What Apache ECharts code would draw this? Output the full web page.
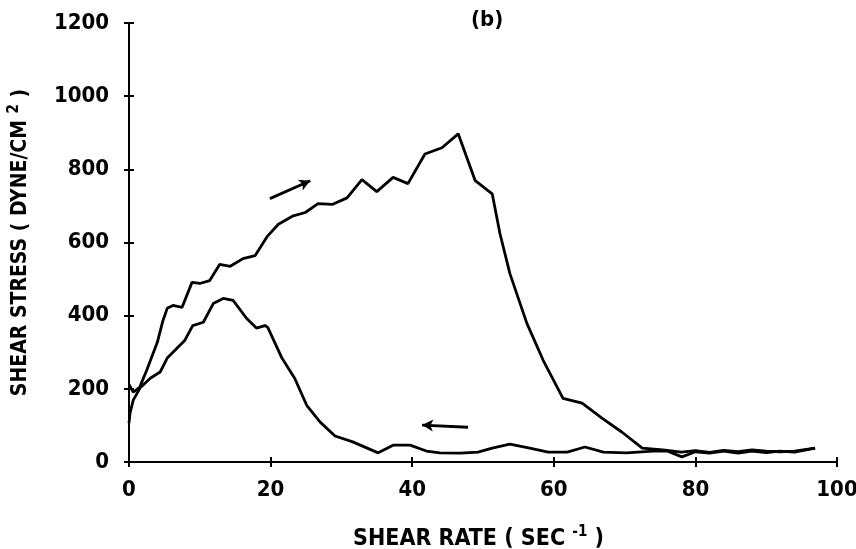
<!DOCTYPE html>
<html>
<head>
<meta charset="utf-8">
<script src="https://cdn.jsdelivr.net/npm/echarts@6/dist/echarts.min.js"></script>
<style>html,body{margin:0;padding:0;background:#fff}#c{width:856px;height:549px}</style>
</head>
<body>
<div id="c"></div>
<script>
// Shear rate (x) vs shear stress (y), loading curve (increasing rate)
const loadingCurve = [
  [0, 212], [0.6, 191], [1.5, 204], [2.5, 251], [4, 327], [4.8, 387], [5.4, 420],
  [6.2, 428], [7.5, 423], [8.9, 491], [10, 488], [11.4, 496], [12.8, 540], [14.3, 535],
  [16.1, 556], [17.8, 564], [19.5, 616], [21.1, 650], [23.2, 673], [24.9, 682],
  [26.7, 706], [28.7, 704], [30.8, 722], [32.9, 772], [35, 739], [37.3, 778],
  [39.4, 761], [41.8, 842], [44.2, 859], [46.5, 897], [48.9, 769], [51.3, 733],
  [52.4, 624], [53.8, 515], [56.2, 379], [58.5, 278], [61.3, 174], [64, 161],
  [66.8, 120], [69.6, 82], [72.5, 38], [75.4, 33], [78, 27], [80, 31], [82, 26],
  [84, 32], [86, 28], [88, 33], [90, 30], [92, 28], [94, 30], [96.9, 38]
];
// unloading curve (decreasing rate)
const unloadingCurve = [
  [96.9, 38], [94, 27], [92, 30], [90, 26], [88, 30], [86, 24], [84, 30], [82, 24],
  [80, 28], [78.1, 14], [76, 30], [74, 30], [70.3, 25], [67, 27], [64.4, 41],
  [61.9, 27], [59.2, 27], [56.6, 38], [53.8, 49], [51.3, 38], [49.3, 27], [46.8, 24],
  [43.9, 25], [42, 30], [39.7, 46], [37.3, 46], [35.2, 25], [31.6, 55], [29.1, 71],
  [27, 109], [25.1, 155], [23.4, 229], [21.6, 284], [19.6, 368], [19.2, 373],
  [18, 366], [16.6, 393], [14.7, 442], [13.3, 447], [11.9, 433], [10.5, 382],
  [9, 373], [7.9, 333], [5.4, 284], [4.4, 246], [3, 229], [1.55, 202], [0.6, 169],
  [0.15, 134], [0, 106]
];
// direction arrows [start, end]
const upArrow = [[19.9, 720], [25.6, 769]];
const downArrow = [[47.9, 95], [41.4, 101]];
const xTicks = [0, 20, 40, 60, 80, 100];
const yTicks = [0, 200, 400, 600, 800, 1000, 1200];

const FONT = '"DejaVu Sans", sans-serif';
const WEIGHT = 'bold condensed';
const ink = '#000';
const chart = echarts.init(document.getElementById('c'));
const axisLbl = { color: ink, fontFamily: FONT, fontWeight: WEIGHT, fontSize: 22, formatter: v => String(v) };
const richX = {
  a: { color: ink, fontFamily: FONT, fontWeight: WEIGHT, fontSize: 23 },
  s: { color: ink, fontFamily: FONT, fontWeight: WEIGHT, fontSize: 15, padding: [0, 0, 13, 0] }
};
const richY = {
  a: { color: ink, fontFamily: FONT, fontWeight: WEIGHT, fontSize: 21 },
  s: { color: ink, fontFamily: FONT, fontWeight: WEIGHT, fontSize: 15, padding: [0, 0, 12, 0] }
};
chart.setOption({
  animation: false,
  backgroundColor: '#fff',
  title: {
    text: '(b)', left: 466, top: 4,
    textStyle: { color: ink, fontFamily: FONT, fontWeight: WEIGHT, fontSize: 22 }
  },
  grid: { left: 129, right: 19, top: 23, bottom: 87, containLabel: false, outerBoundsMode: 'none' },
  xAxis: [{
    type: 'value', min: 0, max: 100, interval: 20,
    axisLine: { show: true, lineStyle: { color: ink, width: 2 } },
    axisTick: { show: true, length: 5, lineStyle: { color: ink, width: 2 } },
    splitLine: { show: false },
    axisLabel: Object.assign({ margin: 17 }, axisLbl),
    name: '{a|SHEAR RATE ( SEC }{s|-1}{a| )}',
    nameLocation: 'middle', nameGap: 63,
    nameTextStyle: { rich: richX, padding: [0, 9, 0, 0] }
  }, {
    type: 'value', min: 0, max: 100, interval: 20, position: 'bottom',
    axisLine: { show: false }, axisLabel: { show: false }, splitLine: { show: false },
    axisTick: { show: true, inside: true, length: 5, lineStyle: { color: ink, width: 2 } }
  }],
  yAxis: [{
    type: 'value', min: 0, max: 1200, interval: 200,
    axisLine: { show: true, lineStyle: { color: ink, width: 2 } },
    axisTick: { show: true, length: 5, lineStyle: { color: ink, width: 2 } },
    splitLine: { show: false },
    axisLabel: Object.assign({ margin: 20 }, axisLbl),
    name: '{a|SHEAR STRESS ( DYNE/CM }{s|2}{a| )}',
    nameLocation: 'middle', nameGap: 95, nameRotate: 90,
    nameTextStyle: { rich: richY }
  }, {
    type: 'value', min: 0, max: 1200, interval: 200, position: 'left',
    axisLine: { show: false }, axisLabel: { show: false }, splitLine: { show: false },
    axisTick: { show: true, inside: true, length: 5, lineStyle: { color: ink, width: 2 } }
  }],
  series: [{
    type: 'line', data: loadingCurve, showSymbol: false, symbol: 'none',
    lineStyle: { color: ink, width: 2.8 }, z: 3,
    markLine: {
      silent: true, symbol: ['none', 'arrow'], symbolSize: [9, 11],
      lineStyle: { color: ink, width: 2.8, type: 'solid' }, label: { show: false },
      data: [
        [{ coord: upArrow[0] }, { coord: upArrow[1] }],
        [{ coord: downArrow[0] }, { coord: downArrow[1] }]
      ]
    }
  }, {
    type: 'line', data: unloadingCurve, showSymbol: false, symbol: 'none',
    lineStyle: { color: ink, width: 2.8 }, z: 3
  }]
});
</script>
</body>
</html>
